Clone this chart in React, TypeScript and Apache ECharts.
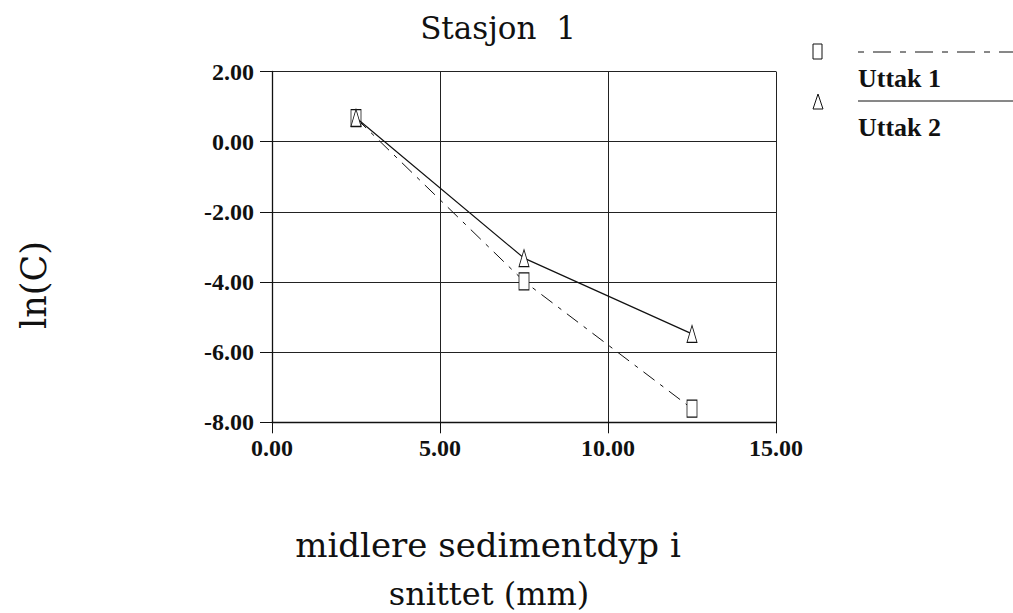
import React, { useEffect, useRef } from "react";
import * as echarts from "echarts";

const xValues = [2.5, 7.5, 12.5];
const uttak1 = [0.67, -3.98, -7.61];
const uttak2 = [0.68, -3.32, -5.48];
const seriesNames = ["Uttak 1", "Uttak 2"];
const titleText = "Stasjon  1";
const yName = "ln(C)";
const xNameLine1 = "midlere sedimentdyp i";
const xNameLine2 = "snittet (mm)";

const labelFont = "'Liberation Serif', 'Times New Roman', serif";
const bigFont = "'DejaVu Serif', 'Liberation Serif', serif";

export default function App() {
  const ref = useRef<HTMLDivElement>(null);
  useEffect(() => {
    if (!ref.current) return;
    const chart = echarts.init(ref.current, null, { renderer: "svg" });
    const pts = (vals: number[]) => xValues.map((x, i) => [x, vals[i]]);
    const tickLabel = {
      formatter: (v: number) => v.toFixed(2),
      color: "#111",
      fontFamily: labelFont,
      fontWeight: "bold",
      fontSize: 24,
    };
    chart.setOption({
      animation: false,
      backgroundColor: "#ffffff",
      grid: { left: 272, top: 71.5, right: 237, bottom: 190.7 },
      xAxis: {
        type: "value",
        min: 0,
        max: 15,
        interval: 5,
        axisLine: { show: true, onZero: false, lineStyle: { color: "#111", width: 1.3 } },
        axisTick: { show: true, inside: false, length: 11, lineStyle: { color: "#111", width: 1 } },
        splitLine: { show: true, lineStyle: { color: "#222", width: 1 } },
        axisLabel: { ...tickLabel, margin: 14 },
      },
      yAxis: {
        type: "value",
        min: -8,
        max: 2,
        interval: 2,
        axisLine: { show: true, onZero: false, lineStyle: { color: "#111", width: 1.3 } },
        axisTick: { show: true, inside: false, length: 12, lineStyle: { color: "#111", width: 1 } },
        splitLine: { show: true, lineStyle: { color: "#222", width: 1 } },
        axisLabel: { ...tickLabel, margin: 18 },
      },
      graphic: [
        {
          type: "text",
          x: 498,
          y: 28,
          style: {
            text: titleText,
            fontFamily: bigFont,
            fontSize: 31,
            fill: "#111",
            align: "center",
            verticalAlign: "middle",
          },
        },
        {
          type: "text",
          x: 34,
          y: 285,
          rotation: Math.PI / 2,
          style: {
            text: yName,
            fontFamily: bigFont,
            fontSize: 35,
            fill: "#111",
            align: "center",
            verticalAlign: "middle",
          },
        },
        {
          type: "text",
          x: 488,
          y: 545,
          style: {
            text: xNameLine1,
            fontFamily: bigFont,
            fontSize: 34,
            fill: "#111",
            align: "center",
            verticalAlign: "middle",
          },
        },
        {
          type: "text",
          x: 489,
          y: 594,
          style: {
            text: xNameLine2,
            fontFamily: bigFont,
            fontSize: 32,
            fill: "#111",
            align: "center",
            verticalAlign: "middle",
          },
        },
        {
          type: "rect",
          shape: { x: 813, y: 44, width: 9, height: 15 },
          style: { fill: "#fff", stroke: "#111", lineWidth: 1 },
        },
        {
          type: "line",
          shape: { x1: 858, y1: 52, x2: 1013, y2: 52 },
          style: { stroke: "#111", lineWidth: 1, lineDash: [6, 9, 18, 9] },
        },
        {
          type: "text",
          x: 858,
          y: 78,
          style: {
            text: seriesNames[0],
            fontFamily: labelFont,
            fontWeight: "bold",
            fontSize: 26,
            fill: "#111",
            verticalAlign: "middle",
          },
        },
        {
          type: "polygon",
          shape: { points: [[818, 94], [813, 109], [823, 109]] },
          style: { fill: "#fff", stroke: "#111", lineWidth: 1 },
        },
        {
          type: "line",
          shape: { x1: 858, y1: 101, x2: 1013, y2: 101 },
          style: { stroke: "#111", lineWidth: 1 },
        },
        {
          type: "text",
          x: 858,
          y: 127,
          style: {
            text: seriesNames[1],
            fontFamily: labelFont,
            fontWeight: "bold",
            fontSize: 26,
            fill: "#111",
            verticalAlign: "middle",
          },
        },
      ],
      series: [
        {
          name: seriesNames[0],
          type: "line",
          data: pts(uttak1),
          symbol: "rect",
          symbolSize: [10, 17],
          itemStyle: { color: "#fff", borderColor: "#111", borderWidth: 1 },
          lineStyle: { color: "#111", width: 1, type: [14, 7, 4, 7] },
          z: 3,
        },
        {
          name: seriesNames[1],
          type: "line",
          data: pts(uttak2),
          symbol: "triangle",
          symbolSize: [10, 17],
          itemStyle: { color: "#fff", borderColor: "#111", borderWidth: 1 },
          lineStyle: { color: "#111", width: 1.2, type: "solid" },
          z: 4,
        },
      ],
    });
    return () => chart.dispose();
  }, []);
  return (
    <div
      ref={ref}
      style={{ position: "absolute", left: 0, top: 0, width: 1013, height: 613 }}
    />
  );
}
